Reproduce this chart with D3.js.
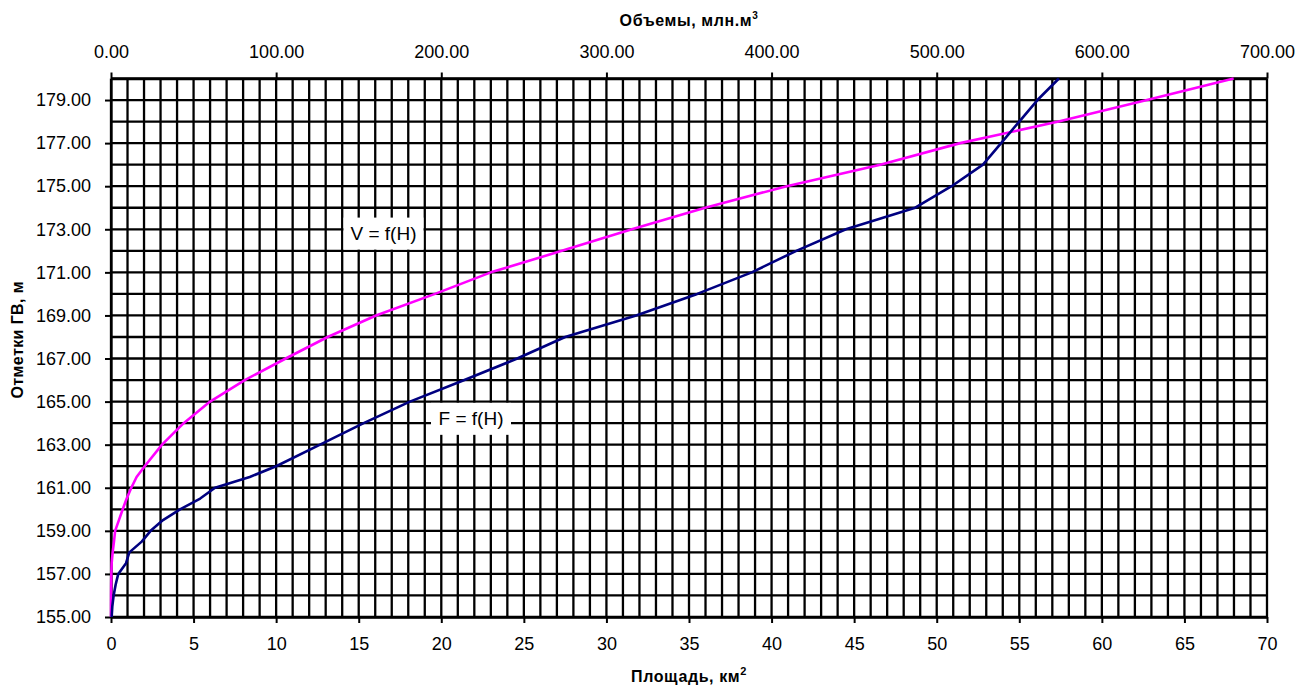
<!DOCTYPE html>
<html>
<head>
<meta charset="utf-8">
<script src="https://cdn.jsdelivr.net/npm/d3@7"></script>
<style>
  body { margin: 0; background: #fff; }
  svg { display: block; font-family: "Liberation Sans", Arial, sans-serif; }
</style>
</head>
<body>
<svg id="chart" width="1299" height="688"></svg>
<script>
// отметки, м
const levels = [155, 155.5, 156, 156.5, 157, 157.5, 158, 158.5, 159, 159.5, 160, 160.5, 161, 161.5,
  162, 163, 164, 165, 166, 167, 168, 169, 170, 171, 172, 173, 174, 175, 176, 177, 178, 179, 180];
// площадь, км2
const areas = [0.04, 0.08, 0.16, 0.28, 0.44, 0.91, 1.11, 1.86, 2.4, 3.15, 4.18, 5.4, 6.3, 8.4,
  10.0, 12.66, 15.3, 18.1, 21.4, 24.6, 27.5, 31.8, 35.5, 38.8, 41.5, 44.5, 48.7, 50.9, 52.8, 53.9, 55.0, 56.1, 57.4];
// объемы, млн.м3
const volumes = [0, 0.02, 0.05, 0.1, 0.2, 0.4, 1.0, 1.8, 2.5, 4.8, 7.1, 9.5, 12.3, 15.5,
  20.4, 30.9, 44, 60, 81, 105.8, 131.2, 160.5, 196.2, 230, 273, 315.4, 359.8, 409.2, 465.8, 514.2, 573.8, 627.3, 679.8];

const levelTicks = d3.range(155, 180, 2);
const areaTicks = d3.range(0, 71, 5);
const volumeTicks = d3.range(0, 701, 100);

// подписи кривых: [текст, площадь, отметка]
const curveLabels = [["V = f(H)", 16.5, 172.8], ["F = f(H)", 21.8, 164.2]];

const svg = d3.select("#chart");
const pLeft = 111, pRight = 1267, pTop = 78.5, pBottom = 617;

const x = d3.scaleLinear().domain([0, 70]).range([pLeft, pRight]);
const xv = d3.scaleLinear().domain([0, 700]).range([pLeft, pRight]);
const y = d3.scaleLinear().domain([155, 180]).range([pBottom, pTop]);

// сетка
const grid = svg.append("g").attr("stroke", "#000").attr("stroke-width", 2.3);
grid.selectAll("line.v").data(d3.range(0, 71, 1)).enter().append("line")
  .attr("x1", d => x(d)).attr("x2", d => x(d)).attr("y1", pTop).attr("y2", pBottom);
grid.selectAll("line.h").data(d3.range(155, 181, 1)).enter().append("line")
  .attr("x1", pLeft).attr("x2", pRight).attr("y1", d => y(d)).attr("y2", d => y(d));

// оси
const styleAxis = g => {
  g.select(".domain").attr("stroke", "#000").attr("stroke-width", 2.3);
  g.selectAll(".tick line").attr("stroke", "#000").attr("stroke-width", 2);
  g.selectAll(".tick text").attr("fill", "#000").style("font-size", "18px");
};

svg.append("g").attr("transform", `translate(0,${pTop})`)
  .call(d3.axisTop(xv).tickValues(volumeTicks).tickFormat(d3.format(".2f")).tickSize(6).tickSizeOuter(0).tickPadding(14.5))
  .call(styleAxis);

svg.append("g").attr("transform", `translate(0,${pBottom})`)
  .call(d3.axisBottom(x).tickValues(areaTicks).tickFormat(d3.format("d")).tickSize(6).tickSizeOuter(0).tickPadding(14))
  .call(styleAxis);

svg.append("g").attr("transform", `translate(${pLeft},0)`)
  .call(d3.axisLeft(y).tickValues(levelTicks).tickFormat(d3.format(".2f")).tickSize(6).tickSizeOuter(0).tickPadding(14))
  .call(styleAxis);

// кривые
const lineF = d3.line().x((d, i) => x(areas[i])).y(d => y(d));
const lineV = d3.line().x((d, i) => xv(volumes[i])).y(d => y(d));

svg.append("path").datum(levels).attr("d", lineV)
  .attr("fill", "none").attr("stroke", "#ff00ff").attr("stroke-width", 2.6).attr("stroke-linejoin", "round");
svg.append("path").datum(levels).attr("d", lineF)
  .attr("fill", "none").attr("stroke", "#000080").attr("stroke-width", 2.6).attr("stroke-linejoin", "round");

// подписи кривых
const lab = svg.append("g").selectAll("g").data(curveLabels).enter().append("g")
  .attr("transform", d => `translate(${x(d[1])},${y(d[2])})`);
lab.append("rect").attr("x", -40).attr("y", -16).attr("width", 80).attr("height", 32).attr("fill", "#fff");
lab.append("text").attr("text-anchor", "middle").attr("dy", "0.35em")
  .style("font-size", "19px").text(d => d[0]);

// заголовки осей
const topTitle = svg.append("text").attr("x", (pLeft + pRight) / 2).attr("y", 26)
  .attr("text-anchor", "middle").style("font-size", "16px").style("font-weight", "bold")
  .style("letter-spacing", "0.6px");
topTitle.append("tspan").text("Объемы, млн.м");
topTitle.append("tspan").attr("dy", -7).style("font-size", "10px").text("3");

const botTitle = svg.append("text").attr("x", (pLeft + pRight) / 2).attr("y", 682)
  .attr("text-anchor", "middle").style("font-size", "16px").style("font-weight", "bold")
  .style("letter-spacing", "0.6px");
botTitle.append("tspan").text("Площадь, км");
botTitle.append("tspan").attr("dy", -7).style("font-size", "11px").text("2");

svg.append("text").attr("transform", `translate(23,${(pTop + pBottom) / 2 - 8}) rotate(-90)`)
  .attr("text-anchor", "middle").style("font-size", "16px").style("font-weight", "bold")
  .style("letter-spacing", "0.4px")
  .text("Отметки ГВ, м");
</script>
</body>
</html>
